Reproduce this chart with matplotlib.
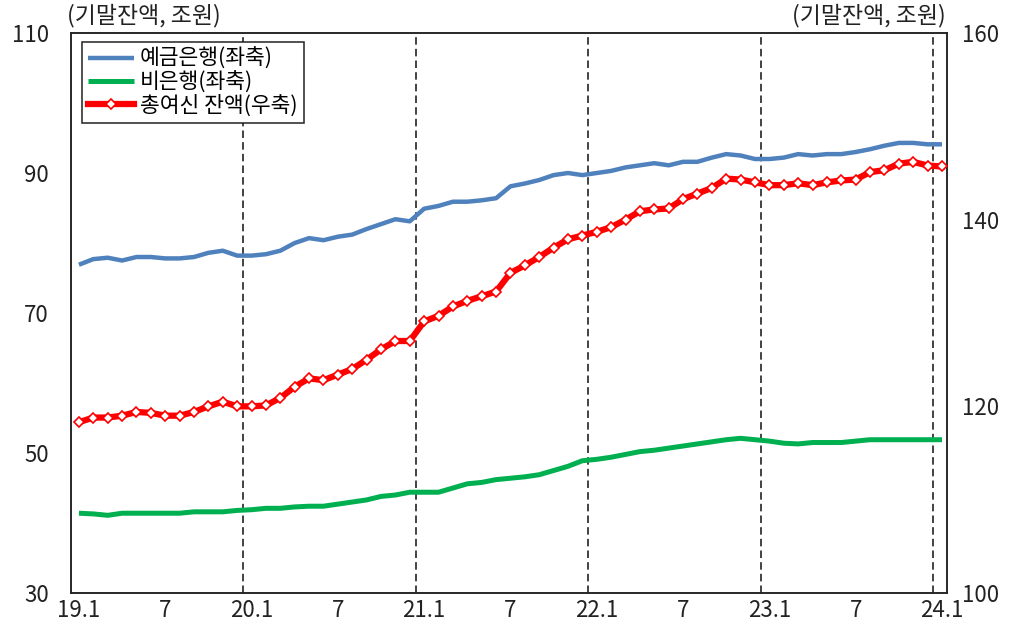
import numpy as np
import matplotlib
matplotlib.use("Agg")
import matplotlib.pyplot as plt

plt.rcParams['font.family'] = ['Noto Sans CJK KR', 'DejaVu Sans']

# monthly data, 19.1 ~ 24.1
months = list(range(61))
tick_pos = list(range(0, 61, 6))
tick_labels = ['19.1', '7', '20.1', '7', '21.1', '7', '22.1', '7', '23.1', '7', '24.1']

# 예금은행 (left axis)
bank = [76.9, 77.7, 77.9, 77.5, 78.0, 78.0, 77.8, 77.8, 78.0, 78.6,
        78.9, 78.2, 78.2, 78.4, 78.9, 80.0, 80.7, 80.4, 80.9, 81.2,
        82.0, 82.7, 83.4, 83.1, 84.9, 85.3, 85.9, 85.9, 86.1, 86.4,
        88.1, 88.5, 89.0, 89.7, 90.0, 89.7, 90.0, 90.3, 90.8, 91.1,
        91.4, 91.1, 91.6, 91.6, 92.2, 92.7, 92.5, 92.0, 92.0, 92.2,
        92.7, 92.5, 92.7, 92.7, 93.0, 93.4, 93.9, 94.3, 94.3, 94.1,
        94.1]

# 비은행 (left axis)
nonbank = [41.4, 41.3, 41.1, 41.4, 41.4, 41.4, 41.4, 41.4, 41.6, 41.6,
           41.6, 41.8, 41.9, 42.1, 42.1, 42.3, 42.4, 42.4, 42.7, 43.0,
           43.3, 43.8, 44.0, 44.4, 44.4, 44.4, 45.0, 45.6, 45.8, 46.2,
           46.4, 46.6, 46.9, 47.5, 48.1, 48.9, 49.1, 49.4, 49.8, 50.2,
           50.4, 50.7, 51.0, 51.3, 51.6, 51.9, 52.1, 51.9, 51.7, 51.4,
           51.3, 51.5, 51.5, 51.5, 51.7, 51.9, 51.9, 51.9, 51.9, 51.9,
           51.9]

# 총여신 잔액 (right axis)
total = [118.3, 118.8, 118.8, 119.0, 119.4, 119.3, 119.0, 119.0, 119.4, 120.0,
         120.5, 120.0, 120.0, 120.1, 120.9, 122.1, 123.0, 122.8, 123.4, 124.0,
         125.0, 126.1, 127.0, 127.0, 129.1, 129.7, 130.7, 131.3, 131.8, 132.3,
         134.3, 135.1, 136.0, 137.0, 137.9, 138.3, 138.7, 139.2, 140.0, 140.9,
         141.1, 141.2, 142.2, 142.8, 143.4, 144.4, 144.3, 144.0, 143.7, 143.7,
         143.9, 143.7, 144.0, 144.2, 144.3, 145.1, 145.3, 146.0, 146.2, 145.8,
         145.7]

# year boundaries (between Dec and Jan)
year_lines = [11.4, 23.4, 35.4, 47.4, 59.4]

fig = plt.figure(figsize=(10.16, 6.3), dpi=100)
ax = fig.add_axes([0.0699, 0.0587, 0.8622, 0.8889])
ax2 = ax.twinx()

for xv in year_lines:
    ax.axvline(xv, color='#222222', lw=1.2, linestyle=(0, (4.5, 2.5)), zorder=1)

l1, = ax.plot(months, bank, color='#4F81BD', lw=3.2, solid_capstyle='butt', zorder=3)
l2, = ax.plot(months, nonbank, color='#00B050', lw=3.6, solid_capstyle='butt', zorder=3)
l3, = ax2.plot(months, total, color='#FF0000', lw=4.5, marker='D', markersize=5.5,
               markerfacecolor='white', markeredgecolor='#FF0000', markeredgewidth=1.2,
               zorder=3)

ax.set_xlim(-0.55, 60.35)
ax.set_ylim(30, 110)
ax.set_yticks([30, 50, 70, 90, 110])
ax2.set_ylim(100, 160)
ax2.set_yticks([100, 120, 140, 160])
ax.set_xticks(tick_pos)
ax.set_xticklabels(tick_labels)

ax.tick_params(axis='x', length=0, pad=4, labelsize=16, colors='#222222')
ax.tick_params(axis='y', length=0, pad=16, labelsize=16, colors='#222222')
ax2.tick_params(axis='y', length=0, pad=11, labelsize=16, colors='#222222')

for a in (ax, ax2):
    for s in a.spines.values():
        s.set_linewidth(1.1)
        s.set_color('#222222')

fig.text(0.066, 0.975, '(기말잔액, 조원)', fontsize=16.5, ha='left', va='center', color='#222222')
fig.text(0.931, 0.975, '(기말잔액, 조원)', fontsize=16.5, ha='right', va='center', color='#222222')

leg = ax.legend([l1, l2, l3], ['예금은행(좌축)', '비은행(좌축)', '총여신 잔액(우축)'],
                loc='upper left', bbox_to_anchor=(0.0807, 0.934), bbox_transform=fig.transFigure,
                borderaxespad=0, fontsize=15.5, fancybox=False, framealpha=1,
                edgecolor='#222222', handlelength=2.1, handletextpad=0.3,
                labelspacing=0.05, borderpad=0.3)
leg.get_frame().set_linewidth(1.1)
leg.set_zorder(5)

fig.savefig('out.png', dpi=100)
